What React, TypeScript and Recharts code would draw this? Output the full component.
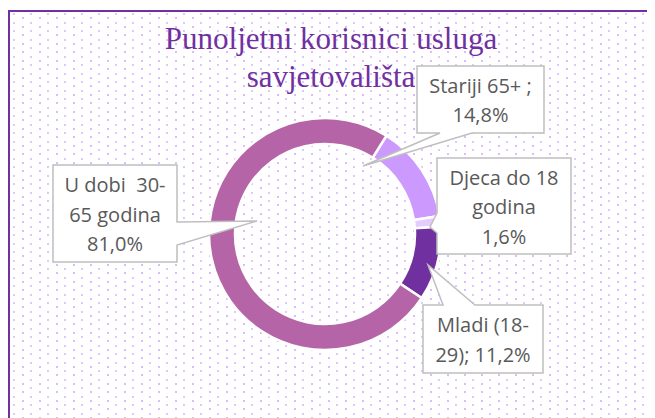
import React from 'react';
import { PieChart, Pie, Cell } from 'recharts';

const categories = ['Stariji 65+', 'Djeca do 18 godina', 'Mladi (18-29)', 'U dobi 30-65 godina'];
const values = [14.8, 1.6, 11.2, 81.0];
const labelPrefixes = [['Stariji 65+ ;'], ['Djeca do 18', 'godina'], ['Mladi (18-'], ['U dobi  30-', '65 godina']];
const labelSuffixJoin = ['', '', '29); ', ''];
const colors = ['#CC99FF', '#E4CCFC', '#7030A0', '#B565A7'];
const title = ['Punoljetni korisnici usluga', 'savjetovališta'];

const data = categories.map((name, i) => ({ name, value: values[i] }));

const W = 647;
const H = 410;

// callout layout relative to pie centre: box [x0,y0,x1,y1], wedge side, base range, tip
const callouts = [
  { box: [92, -168, 219, -101], side: 'bottom', a: 115, b: 147, tip: [38, -68] },
  { box: [112, -76, 246, 20], side: 'left', a: -21, b: -1, tip: [105, -7] },
  { box: [98, 71, 218, 139], side: 'top', a: 118, b: 150, tip: [103, 31] },
  { box: [-272, -69, -148, 28], side: 'right', a: -12, b: 11, tip: [-68, -13] },
];

function fmt(v: number) {
  return v.toFixed(1).replace('.', ',') + '%';
}

function calloutPath(c: any, cx: number, cy: number) {
  const [bx0, by0, bx1, by1] = c.box;
  const x0 = cx + bx0, y0 = cy + by0, x1 = cx + bx1, y1 = cy + by1;
  const tx = cx + c.tip[0], ty = cy + c.tip[1];
  const pts: [number, number][] = [];
  pts.push([x0, y0]);
  if (c.side === 'top') { pts.push([cx + c.a, y0], [tx, ty], [cx + c.b, y0]); }
  pts.push([x1, y0]);
  if (c.side === 'right') { pts.push([x1, cy + c.a], [tx, ty], [x1, cy + c.b]); }
  pts.push([x1, y1]);
  if (c.side === 'bottom') { pts.push([cx + c.b, y1], [tx, ty], [cx + c.a, y1]); }
  pts.push([x0, y1]);
  if (c.side === 'left') { pts.push([x0, cy + c.b], [tx, ty], [x0, cy + c.a]); }
  return 'M' + pts.map((p) => p[0] + ',' + p[1]).join('L') + 'Z';
}

function labelLinesFor(i: number): string[] {
  const pre = labelPrefixes[i].slice();
  const pct = fmt(values[i]);
  if (labelSuffixJoin[i]) {
    pre.push(labelSuffixJoin[i] + pct);
  } else {
    pre.push(pct);
  }
  return pre;
}

const renderLabel = (props: any) => {
  const { cx, cy, index } = props;
  const c = callouts[index];
  const lines = labelLinesFor(index);
  const [bx0, by0, bx1, by1] = c.box;
  const mx = cx + (bx0 + bx1) / 2;
  const my = cy + (by0 + by1) / 2;
  const lh = 29.5;
  return (
    <g key={'lbl' + index}>
      <path d={calloutPath(c, cx, cy)} fill="#FFFFFF" stroke="#BFBFBF" strokeWidth={1.5} />
      {lines.map((t, k) => (
        <text
          key={k}
          x={mx}
          y={my + (k - (lines.length - 1) / 2) * lh + 8}
          textAnchor="middle"
          fontFamily="'Open Sans', sans-serif"
          fontSize={20}
          fill="#595959"
          style={{ whiteSpace: 'pre' }}
        >
          {t}
        </text>
      ))}
    </g>
  );
};

export default function App() {
  return (
    <div style={{ position: 'relative', width: W, height: H }}>
      <svg width={W} height={H} style={{ position: 'absolute', left: 0, top: 0 }}>
        <defs>
          <pattern id="dots" patternUnits="userSpaceOnUse" x={14} y={1} width={17} height={17}>
            <rect x={0} y={0} width={2} height={2} fill="#DCBCFE" />
            <rect x={0} y={8} width={2} height={2} fill="#DCBCFE" />
            <rect x={8} y={4} width={2} height={2} fill="#E2C6FE" />
            <rect x={8} y={13} width={2} height={2} fill="#E2C6FE" />
          </pattern>
        </defs>
        <rect x={2} y={4} width={W - 2} height={H - 4} fill="#FFFFFF" />
        <rect x={2} y={4} width={W - 2} height={H - 4} fill="url(#dots)" />
        <path d={`M1,${H} V3 H${W}`} fill="none" stroke="#7030A0" strokeWidth={2} />
        {title.map((t, i) => (
          <text
            key={i}
            x={323}
            y={41 + i * 38}
            textAnchor="middle"
            fontFamily="'Liberation Serif', serif"
            fontSize={31}
            fill="#7030A0"
          >
            {t}
          </text>
        ))}
      </svg>
      <div style={{ position: 'absolute', left: 0, top: 0 }}>
        <PieChart width={W} height={H} margin={{ top: 0, right: 0, bottom: 0, left: 0 }}>
          <Pie
            data={data}
            dataKey="value"
            nameKey="name"
            cx={317}
            cy={226}
            innerRadius={90}
            outerRadius={116}
            startAngle={58}
            endAngle={-302}
            stroke="#FFFFFF"
            strokeWidth={2.5}
            label={renderLabel}
            labelLine={false}
            isAnimationActive={false}
          >
            {data.map((d, i) => (
              <Cell key={d.name} fill={colors[i]} />
            ))}
          </Pie>
        </PieChart>
      </div>
    </div>
  );
}
